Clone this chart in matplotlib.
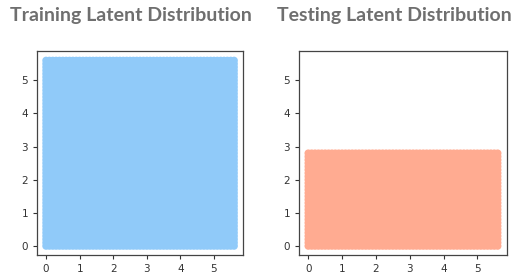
import matplotlib
matplotlib.use("Agg")
import matplotlib.pyplot as plt
import numpy as np

# extents of the uniform latent grids (x_min, x_max, y_min, y_max)
train_box = [0.0, 5.6, 0.0, 5.6]
test_box = [0.0, 5.6, 0.0, 2.8]
grid_step = 0.1
titles = ["Training Latent Distribution", "Testing Latent Distribution"]
colors = ["#90CAF9", "#FFAB91"]
ticks = [0, 1, 2, 3, 4, 5]


def grid_points(box):
    xs = np.arange(box[0], box[1] + grid_step / 2, grid_step)
    ys = np.arange(box[2], box[3] + grid_step / 2, grid_step)
    gx, gy = np.meshgrid(xs, ys)
    return gx.ravel(), gy.ravel()


fig = plt.figure(figsize=(5.14, 2.75), dpi=100)
ax1 = fig.add_axes([0.072, 0.073, 0.401, 0.742])
ax2 = fig.add_axes([0.582, 0.073, 0.404, 0.742])

for ax, box, c, title, cx in zip([ax1, ax2], [train_box, test_box], colors, titles, [0.255, 0.768]):
    x, y = grid_points(box)
    ax.scatter(x, y, s=30, color=c, edgecolors="none")
    ax.set_xlim(-0.27, 5.87)
    ax.set_ylim(-0.27, 5.89)
    ax.set_xticks(ticks)
    ax.set_yticks(ticks)
    ax.tick_params(labelsize=7.5, length=3, width=0.8, colors="#333333")
    for s in ax.spines.values():
        s.set_color("#444444")
        s.set_linewidth(0.9)
    fig.text(cx, 0.945, title, ha="center", va="center", fontsize=14,
             fontweight="bold", family="Lato", color="#6f6f6f")

fig.savefig("out.png", dpi=100)
